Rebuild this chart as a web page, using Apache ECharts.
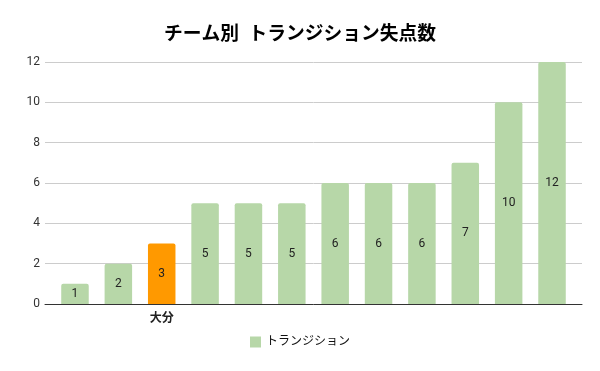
<!DOCTYPE html>
<html><head><meta charset="utf-8">
<script src="https://cdn.jsdelivr.net/npm/echarts@6/dist/echarts.min.js"></script>
<style>html,body{margin:0;padding:0;background:#fff}#c{width:600px;height:371px}</style>
</head><body><div id="c"></div>
<script>
const categories = ['', '', '大分', '', '', '', '', '', '', '', '', ''];
const values = [1, 2, 3, 5, 5, 5, 6, 6, 6, 7, 10, 12];
const highlightIndex = 2;
const yTicks = { min: 0, max: 12, interval: 2 };
const seriesName = 'トランジション';
const titleText = 'チーム別  トランジション失点数';

const green = '#b7d7a8', orange = '#ff9900';
const font = 'Roboto, "Noto Sans CJK JP", sans-serif';
const chart = echarts.init(document.getElementById('c'));
chart.setOption({
  animation: false,
  title: { text: titleText, left: 'center', top: 21,
    textStyle: { fontFamily: font, fontSize: 18.75, fontWeight: 'bold', color: '#000' } },
  legend: { bottom: 18, left: 'center', itemWidth: 11, itemHeight: 11, itemGap: 6,
    icon: 'rect', data: [seriesName],
    textStyle: { fontFamily: font, fontSize: 12, color: '#111' } },
  grid: [
    { left: 53.3, right: 26.3, top: 62, bottom: 67 },
    { left: 45, right: 18, top: 62, bottom: 67 }
  ],
  xAxis: [
    { type: 'category', gridIndex: 0, data: categories,
      axisLine: { show: false }, axisTick: { show: false },
      axisLabel: { interval: 0, margin: 9, fontFamily: font, fontSize: 12, fontWeight: 'bold', color: '#222' } },
    { type: 'category', gridIndex: 1, data: [''], axisTick: { show: false }, axisLabel: { show: false },
      axisLine: { show: true, lineStyle: { color: '#333', width: 1 } } }
  ],
  yAxis: [
    { type: 'value', gridIndex: 0, min: yTicks.min, max: yTicks.max, interval: yTicks.interval,
      show: false, splitLine: { show: false } },
    { type: 'value', gridIndex: 1, min: yTicks.min, max: yTicks.max, interval: yTicks.interval,
      axisLine: { show: false }, axisTick: { show: false },
      axisLabel: { margin: 5, fontFamily: font, fontSize: 12, color: '#333' },
      splitLine: { lineStyle: { color: '#cccccc', width: 1 } } }
  ],
  series: [{
    name: seriesName, type: 'bar', xAxisIndex: 0, yAxisIndex: 0,
    barWidth: 27.5,
    itemStyle: { color: green, borderRadius: [2, 2, 0, 0] },
    label: { show: true, position: 'inside', fontFamily: font, fontSize: 12, color: '#222' },
    data: values.map((v, i) => i === highlightIndex ? { value: v, itemStyle: { color: orange } } : v),
    z: 3
  }]
});
</script></body></html>
